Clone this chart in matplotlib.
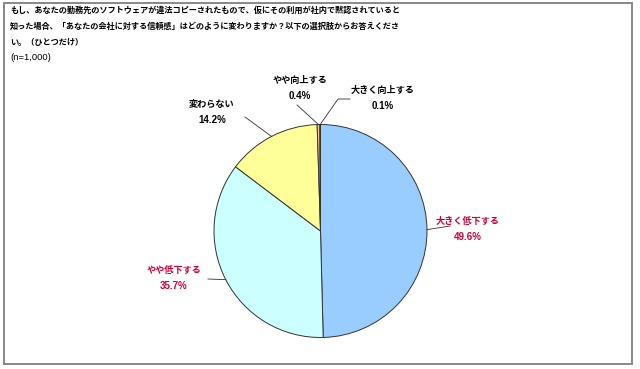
import matplotlib
matplotlib.use("Agg")
import matplotlib.pyplot as plt
from matplotlib.patches import Rectangle
import numpy as np

plt.rcParams['font.family'] = ['Noto Sans CJK JP', 'DejaVu Sans']

labels = ["大きく低下する", "やや低下する", "変わらない", "やや向上する", "大きく向上する"]
values = [49.6, 35.7, 14.2, 0.4, 0.1]
colors = ["#99CCFF", "#CCFFFF", "#FFFF99", "#FFCC99", "#CC9966"]
label_colors = ["#CC0033", "#CC0033", "#000000", "#000000", "#000000"]
title_lines = [
    "もし、あなたの勤務先のソフトウェアが違法コピーされたもので、仮にその利用が社内で黙認されていると",
    "知った場合、「あなたの会社に対する信頼感」はどのように変わりますか？以下の選択肢からお答えくださ",
    "い。（ひとつだけ）",
]
n_label = "(n=1,000)"

W, H = 640, 369
fig = plt.figure(figsize=(W / 100, H / 100), dpi=100)
fig.patch.set_facecolor("white")

# frame
fig.add_artist(Rectangle((4 / W, 5 / H), 628 / W, 361 / H, transform=fig.transFigure,
                         fill=False, edgecolor="#888888", linewidth=1.4))

cx, cy, r = 320.5, 369 - 231, 106.5
ax = fig.add_axes([(cx - r) / W, (cy - r) / H, 2 * r / W, 2 * r / H])
wedges, _ = ax.pie(values, colors=colors, startangle=90, counterclock=False, radius=1,
                   wedgeprops=dict(edgecolor="#333333", linewidth=0.7))
ax.set_xlim(-1, 1)
ax.set_ylim(-1, 1)
ax.set_aspect("auto")
ax.axis("off")

# label text positions (figure pixels from top-left) and leader line end points
text_pos = [(468, 229), (174, 278), (212, 112), (300, 88), (383, 98)]
line_end = [(450, 226), (208, 279), (245, 117), (297, 105), (350, 99)]

cum = 0
for i, (lab, val) in enumerate(zip(labels, values)):
    mid = 90 - (cum + val / 2) * 3.6
    cum += val
    ang = np.deg2rad(mid)
    ex, ey = np.cos(ang), np.sin(ang)
    tx, ty = text_pos[i]
    fig.text(tx / W, 1 - (ty - 8) / H, lab, ha="center", va="center", fontsize=6.6,
             fontweight="bold", color=label_colors[i])
    fig.text(tx / W, 1 - (ty + 8) / H, f"{val}%", ha="center", va="center", fontsize=7,
             fontweight="bold", color=label_colors[i], family=["Liberation Sans"])
    lx, ly = line_end[i]
    pts_fig = [ax.transData.transform((ex, ey))]
    if i == 4:
        pts_fig += [(338, H - 99), (lx, H - ly)]
    else:
        pts_fig.append((lx, H - ly))
    xs = [p[0] / W for p in pts_fig]
    ys = [p[1] / H for p in pts_fig]
    fig.add_artist(plt.Line2D(xs, ys, transform=fig.transFigure, color="#333333", linewidth=0.6))

y0 = 10.5
for k, line in enumerate(title_lines):
    fig.text(10 / W, 1 - (y0 + 16 * k) / H, line, ha="left", va="center", fontsize=5.9,
             fontweight="bold", color="black")
fig.text(10 / W, 1 - 57 / H, n_label, ha="left", va="center", fontsize=6.8,
         color="black", family=["Liberation Sans"])

fig.savefig("out.png", dpi=100, facecolor="white")
